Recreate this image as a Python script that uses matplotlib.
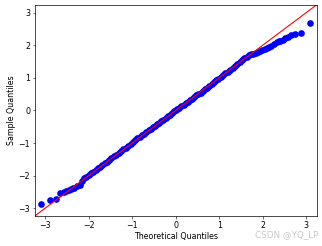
import matplotlib
matplotlib.use("Agg")
import matplotlib.pyplot as plt
from statistics import NormalDist

# sample size and ranks of the plotted order statistics
n = 1000
ranks = [1, 2, 3, 4, 5, 6, 7, 8, 9, 10, 12, 14, 16, 18, 20, 23, 26, 29, 33, 37,
         41, 46, 51, 57, 63, 70, 78, 86, 95, 105, 115, 126, 138, 150, 163, 176,
         190, 205, 220, 235, 251, 267, 284, 301, 318, 336, 354, 372, 390, 409,
         428, 447, 466, 485, 500,
         516, 535, 554, 573, 592, 611, 629, 647, 665, 683, 700, 717, 734, 750,
         766, 781, 796, 811, 825, 838, 851, 863, 875, 886, 896, 906, 915, 923,
         931, 938, 944, 950, 955, 960, 964, 968, 972, 975, 978, 981, 983, 985,
         987, 989, 991, 992, 993, 994, 995, 996, 997, 998, 999, 1000]

# sample quantiles
sample = [-2.88, -2.74, -2.71, -2.53, -2.49, -2.46, -2.43, -2.41, -2.39, -2.37,
          -2.33, -2.28, -2.17, -2.07, -2.03, -1.98, -1.93, -1.88, -1.83, -1.78,
          -1.73, -1.68, -1.62, -1.57, -1.52, -1.47, -1.41, -1.36, -1.30, -1.25,
          -1.19, -1.14, -1.08, -1.03, -0.97, -0.91, -0.86, -0.80, -0.76, -0.71,
          -0.66, -0.61, -0.56, -0.51, -0.47, -0.42, -0.37, -0.32, -0.28, -0.23,
          -0.18, -0.13, -0.08, -0.03, 0.01,
          0.05, 0.09, 0.13, 0.18, 0.22, 0.27, 0.31, 0.36, 0.41, 0.46,
          0.50, 0.55, 0.60, 0.65, 0.70, 0.75, 0.81, 0.86, 0.92, 0.97,
          1.03, 1.08, 1.14, 1.19, 1.25, 1.31, 1.37, 1.42, 1.48, 1.54,
          1.60, 1.65, 1.69, 1.72, 1.745, 1.77, 1.80, 1.83, 1.86, 1.88,
          1.91, 1.94, 1.99, 2.04, 2.09, 2.12, 2.14, 2.17, 2.21, 2.25,
          2.31, 2.35, 2.37, 2.68]

nd = NormalDist()
theoretical = [nd.inv_cdf(r / (n + 1)) for r in ranks]

fig = plt.figure(figsize=(3.22, 2.46), dpi=100)
ax = fig.add_axes([0.108, 0.122, 0.875, 0.858])

ax.plot(theoretical, sample, 'bo', markersize=4.8, markeredgewidth=0)
lim = [-3.24, 3.24]
ax.plot(lim, lim, 'r-', linewidth=0.8)
ax.set_xlim(lim)
ax.set_ylim(lim)

ax.set_xticks([-3, -2, -1, 0, 1, 2, 3])
ax.set_yticks([-3, -2, -1, 0, 1, 2, 3])
ax.tick_params(labelsize=5.7, length=1.8, width=0.4, pad=1.5)
for s in ax.spines.values():
    s.set_linewidth(0.5)
ax.set_xlabel('Theoretical Quantiles', fontsize=5.7, labelpad=2)
ax.set_ylabel('Sample Quantiles', fontsize=5.7, labelpad=2)

fig.text(0.988, 0.048, 'CSDN @YQ_LP', fontsize=6.3, color='#c8c8c8',
         ha='right', va='center')

fig.savefig('out.png', dpi=100)
